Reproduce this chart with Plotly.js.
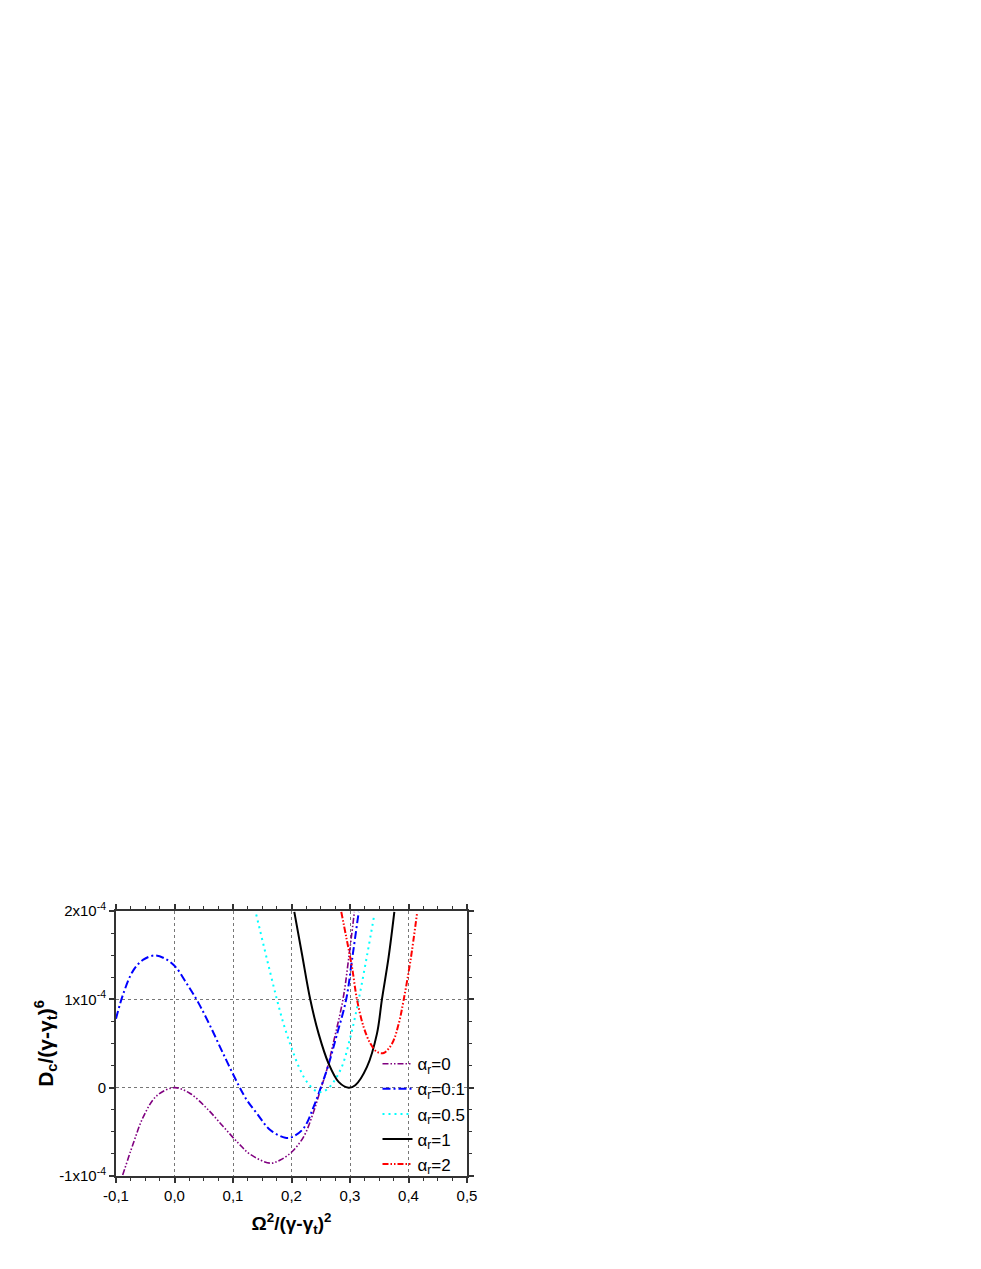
<!DOCTYPE html>
<html>
<head>
<meta charset="utf-8">
<script src="https://cdn.plot.ly/plotly-3.0.1.min.js"></script>
<style>
  body { margin: 0; background: #fff; }
  #chart { width: 981px; height: 1269px; }
</style>
</head>
<body>
<div id="chart"></div>
<script>
// D_c/(gamma-gamma_t)^6 against Omega^2/(gamma-gamma_t)^2, y values in units of 1e-4

var x_a0 = [-0.0886, -0.0704, -0.0533, -0.0304, 0.0, 0.0267, 0.0553, 0.0837, 0.1094, 0.1295, 0.1637, 0.1808, 0.2008, 0.2207, 0.2378, 0.2493, 0.2607, 0.272, 0.288, 0.2975, 0.3075];
var y_a0 = [-0.99, -0.63, -0.33, -0.092, 0.0, -0.066, -0.235, -0.443, -0.63, -0.755, -0.855, -0.819, -0.725, -0.556, -0.273, -0.028, 0.21, 0.52, 1.0, 1.45, 1.99];

var x_a01 = [-0.1, -0.0875, -0.0704, -0.0533, -0.0333, -0.0161, 0.001, 0.021, 0.0409, 0.0609, 0.0836, 0.1093, 0.1237, 0.1409, 0.1637, 0.1894, 0.2007, 0.2207, 0.2378, 0.25, 0.2634, 0.2765, 0.2935, 0.3035, 0.3149];
var y_a01 = [0.78, 1.064, 1.328, 1.449, 1.497, 1.46, 1.373, 1.177, 0.96, 0.70, 0.38, 0.03, -0.141, -0.292, -0.48, -0.567, -0.56, -0.46, -0.217, 0.0, 0.263, 0.574, 1.0, 1.45, 1.99];

var x_a05 = [0.1397, 0.152, 0.1637, 0.175, 0.1865, 0.2007, 0.215, 0.2292, 0.2463, 0.2607, 0.2836, 0.3007, 0.3149, 0.3292, 0.3416];
var y_a05 = [1.96, 1.62, 1.30, 1.0, 0.72, 0.44, 0.2, 0.04, -0.05, -0.02, 0.2, 0.574, 1.0, 1.5, 1.96];

var x_a1 = [0.2048, 0.2178, 0.232, 0.2463, 0.2634, 0.2805, 0.2975, 0.309, 0.329, 0.3461, 0.3546, 0.366, 0.3758];
var y_a1 = [1.99, 1.516, 1.0, 0.612, 0.273, 0.066, 0.0, 0.028, 0.235, 0.612, 1.0, 1.478, 1.99];

var x_a2 = [0.2851, 0.2936, 0.3034, 0.3119, 0.3233, 0.3349, 0.3461, 0.3576, 0.3719, 0.3833, 0.3919, 0.4034, 0.4149];
var y_a2 = [1.99, 1.704, 1.365, 1.0, 0.687, 0.499, 0.405, 0.393, 0.499, 0.725, 1.0, 1.44, 1.99];

var xTicks = [-0.1, 0.0, 0.1, 0.2, 0.3, 0.4, 0.5];
var xTickText = ['-0,1', '0,0', '0,1', '0,2', '0,3', '0,4', '0,5'];
var yTicks = [-1, 0, 1, 2];
var yTickText = ['-1x10<sup>-4</sup>', '0', '1x10<sup>-4</sup>', '2x10<sup>-4</sup>'];

var trace1 = {
  x: x_a0, y: y_a0, mode: 'lines', type: 'scatter', name: '\u03b1<sub>r</sub>=0',
  line: { color: '#800080', width: 1.6, dash: '6px,2px,1.5px,2px,1.5px,2px', shape: 'spline' }
};
var trace2 = {
  x: x_a01, y: y_a01, mode: 'lines', type: 'scatter', name: '\u03b1<sub>r</sub>=0.1',
  line: { color: '#0000ff', width: 2, dash: '8px,3px,2px,3px', shape: 'spline' }
};
var trace3 = {
  x: x_a05, y: y_a05, mode: 'lines', type: 'scatter', name: '\u03b1<sub>r</sub>=0.5',
  line: { color: '#00ffff', width: 2, dash: '2px,4px', shape: 'spline' }
};
var trace4 = {
  x: x_a1, y: y_a1, mode: 'lines', type: 'scatter', name: '\u03b1<sub>r</sub>=1',
  line: { color: '#000000', width: 2, shape: 'spline' }
};
var trace5 = {
  x: x_a2, y: y_a2, mode: 'lines', type: 'scatter', name: '\u03b1<sub>r</sub>=2',
  line: { color: '#ff0000', width: 2, dash: '6px,2px,1.5px,2px,1.5px,2px', shape: 'spline' }
};

var data = [trace1, trace2, trace3, trace4, trace5];

var axisCommon = {
  showline: true, linewidth: 2, linecolor: '#333',
  mirror: 'ticks', ticks: 'outside', ticklen: 5, tickwidth: 1.5, tickcolor: '#333',
  showgrid: true, gridcolor: '#777', griddash: 'dot', gridwidth: 1,
  zeroline: false,
  tickfont: { family: 'Liberation Sans, Arial, sans-serif', size: 15, color: '#000' }
};

var layout = {
  width: 981, height: 1269,
  margin: { l: 116, r: 514, t: 911, b: 93 },
  paper_bgcolor: '#fff', plot_bgcolor: '#fff',
  font: { family: 'Liberation Sans, Arial, sans-serif', color: '#000' },
  showlegend: true,
  legend: {
    x: 0.745, y: 0.49, xanchor: 'left', yanchor: 'top',
    bgcolor: 'rgba(0,0,0,0)', font: { size: 17 }, tracegroupgap: 0
  },
  xaxis: Object.assign({}, axisCommon, {
    range: [-0.1, 0.5], tickmode: 'array', tickvals: xTicks, ticktext: xTickText,
    minor: { tick0: -0.1, dtick: 0.025, ticks: 'outside', ticklen: 3, tickwidth: 1.2, tickcolor: '#333', showgrid: false },
    title: { text: '<b>\u03a9<sup>2</sup>/(\u03b3-\u03b3<sub>t</sub>)<sup>2</sup></b>', font: { size: 19 }, standoff: 14 }
  }),
  yaxis: Object.assign({}, axisCommon, {
    range: [-1, 2], tickmode: 'array', tickvals: yTicks, ticktext: yTickText,
    minor: { tick0: -1, dtick: 0.25, ticks: 'outside', ticklen: 3, tickwidth: 1.2, tickcolor: '#333', showgrid: false },
    title: { text: '<b>D<sub>c</sub>/(\u03b3-\u03b3<sub>t</sub>)<sup>6</sup></b>', font: { size: 21 }, standoff: 0 }
  })
};

Plotly.newPlot('chart', data, layout, { displayModeBar: false });
</script>
</body>
</html>
